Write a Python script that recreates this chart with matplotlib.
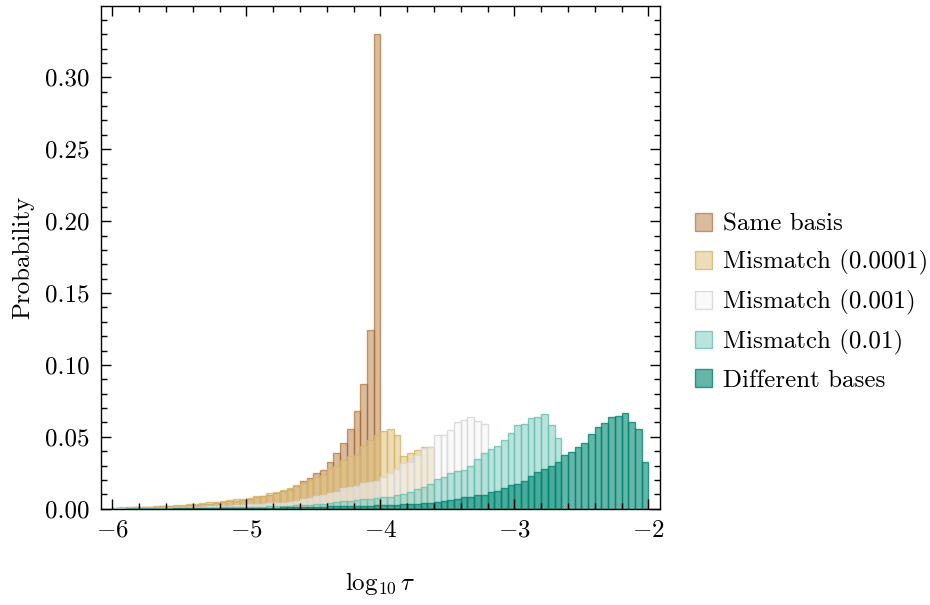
import numpy as np
import matplotlib
matplotlib.use("Agg")
import matplotlib.pyplot as plt
from matplotlib.ticker import MultipleLocator

plt.rcParams["font.family"] = ["cmr10"]
plt.rcParams["mathtext.fontset"] = "cm"
plt.rcParams["axes.formatter.use_mathtext"] = True
plt.rcParams["font.size"] = 18

# histogram of log10(tau), 80 bins of width 0.05 between -6 and -2
bin_lo, bin_hi, n_bins = -6.0, -2.0, 80

same_basis = [
    0.0005, 0.0008, 0.0008, 0.0010, 0.0011, 0.0012, 0.0014, 0.0016, 0.0018, 0.0020,
    0.0022, 0.0025, 0.0027, 0.0031, 0.0036, 0.0038, 0.0045, 0.0050, 0.0055, 0.0062,
    0.0070, 0.0080, 0.0085, 0.0098, 0.0108, 0.0124, 0.0140, 0.0160, 0.0190, 0.0215,
    0.0245, 0.0270, 0.0325, 0.0385, 0.0455, 0.0555, 0.0680, 0.0870, 0.1240, 0.3300,
] + [0.0] * 40

mismatch_1e4 = [
    0.0008, 0.0010, 0.0010, 0.0012, 0.0013, 0.0015, 0.0018, 0.0020, 0.0022, 0.0024,
    0.0026, 0.0030, 0.0031, 0.0037, 0.0044, 0.0045, 0.0056, 0.0060, 0.0065, 0.0070,
    0.0077, 0.0088, 0.0090, 0.0107, 0.0114, 0.0130, 0.0142, 0.0163, 0.0180, 0.0200,
    0.0222, 0.0235, 0.0280, 0.0297, 0.0337, 0.0363, 0.0376, 0.0436, 0.0480, 0.0510,
    0.0538, 0.0555, 0.0510, 0.0366, 0.0390, 0.0406, 0.0427, 0.0430,
] + [0.0] * 32

mismatch_1e3 = [
    0.0003, 0.0003, 0.0004, 0.0004, 0.0005, 0.0005, 0.0006, 0.0007, 0.0008, 0.0009,
    0.0010, 0.0011, 0.0012, 0.0014, 0.0016, 0.0018, 0.0020, 0.0022, 0.0025, 0.0027,
    0.0030, 0.0032, 0.0035, 0.0038, 0.0040, 0.0042, 0.0049, 0.0056, 0.0065, 0.0072,
    0.0088, 0.0095, 0.0111, 0.0116, 0.0142, 0.0148, 0.0158, 0.0176, 0.0188, 0.0192,
    0.0222, 0.0246, 0.0278, 0.0315, 0.0327, 0.0373, 0.0420, 0.0430, 0.0510, 0.0510,
    0.0550, 0.0600, 0.0620, 0.0640, 0.0610, 0.0590,
] + [0.0] * 24

mismatch_1e2 = [
    0.0001, 0.0001, 0.0002, 0.0002, 0.0002, 0.0003, 0.0003, 0.0003, 0.0004, 0.0004,
    0.0005, 0.0005, 0.0006, 0.0006, 0.0007, 0.0008, 0.0009, 0.0010, 0.0011, 0.0012,
    0.0013, 0.0014, 0.0015, 0.0016, 0.0018, 0.0019, 0.0021, 0.0023, 0.0026, 0.0029,
    0.0033, 0.0036, 0.0040, 0.0045, 0.0050, 0.0056, 0.0060, 0.0065, 0.0070, 0.0075,
    0.0084, 0.0084, 0.0095, 0.0102, 0.0118, 0.0135, 0.0153, 0.0172, 0.0204, 0.0223,
    0.0245, 0.0260, 0.0270, 0.0297, 0.0346, 0.0390, 0.0413, 0.0436, 0.0478, 0.0529,
    0.0584, 0.0589, 0.0628, 0.0635, 0.0658, 0.0584, 0.0489,
] + [0.0] * 13

different = [
    0.0000, 0.0000, 0.0001, 0.0001, 0.0001, 0.0001, 0.0001, 0.0001, 0.0001, 0.0002,
    0.0002, 0.0002, 0.0002, 0.0003, 0.0003, 0.0003, 0.0004, 0.0004, 0.0005, 0.0005,
    0.0006, 0.0006, 0.0007, 0.0008, 0.0008, 0.0009, 0.0010, 0.0011, 0.0012, 0.0013,
    0.0014, 0.0015, 0.0016, 0.0017, 0.0018, 0.0019, 0.0020, 0.0021, 0.0022, 0.0023,
    0.0025, 0.0027, 0.0029, 0.0031, 0.0034, 0.0036, 0.0040, 0.0043, 0.0047, 0.0052,
    0.0060, 0.0068, 0.0079, 0.0079, 0.0095, 0.0095, 0.0118, 0.0123, 0.0142, 0.0165,
    0.0174, 0.0195, 0.0227, 0.0253, 0.0274, 0.0297, 0.0327, 0.0373, 0.0396, 0.0431,
    0.0459, 0.0517, 0.0570, 0.0593, 0.0640, 0.0644, 0.0663, 0.0603, 0.0552, 0.0327,
]

labels = ["Same basis", "Mismatch (0.0001)", "Mismatch (0.001)",
          "Mismatch (0.01)", "Different bases"]
series = [same_basis, mismatch_1e4, mismatch_1e3, mismatch_1e2, different]
face_colors = ["#a6611a", "#dfc27d", "#f5f5f5", "#80cdc1", "#018571"]
edge_colors = ["#a6611a", "#d6b56a", "#d8d8d8", "#6cbfb2", "#018571"]
face_alpha = [0.42, 0.55, 0.55, 0.55, 0.6]
edge_alpha = [0.6, 0.8, 0.9, 0.8, 0.8]

edges = np.linspace(bin_lo, bin_hi, n_bins + 1)
width = edges[1] - edges[0]

fig = plt.figure(figsize=(9.3, 6.05), dpi=100)
ax = fig.add_axes([0.1086, 0.1592, 0.6011, 0.8308])

for vals, lab, fc, ec, fa, ea in zip(series, labels, face_colors, edge_colors,
                                     face_alpha, edge_alpha):
    vals = np.asarray(vals)
    keep = vals > 0
    ax.bar(edges[:-1][keep], vals[keep], width=width, align="edge",
           facecolor=matplotlib.colors.to_rgba(fc, fa),
           edgecolor=matplotlib.colors.to_rgba(ec, ea),
           linewidth=1.0, label=lab)

ax.set_xlim(-6.085, -1.913)
ax.set_ylim(0, 0.3496)
ax.xaxis.set_major_locator(MultipleLocator(1))
ax.xaxis.set_minor_locator(MultipleLocator(0.2))
ax.yaxis.set_major_locator(MultipleLocator(0.05))
ax.yaxis.set_minor_locator(MultipleLocator(0.01))
ax.yaxis.set_major_formatter(matplotlib.ticker.FormatStrFormatter("%.2f"))
ax.tick_params(which="both", direction="in", top=True, right=True, width=1)
ax.tick_params(which="major", length=7, pad=8)
ax.tick_params(which="minor", length=4)
for sp in ax.spines.values():
    sp.set_linewidth(1)

ax.set_xlabel(r"$\log_{10}\tau$", labelpad=20)
ax.set_ylabel("Probability", labelpad=8)

fig.legend(loc="center left", bbox_to_anchor=(0.747, 0.5), frameon=False,
           borderaxespad=0, borderpad=0, handlelength=0.7, handleheight=0.7,
           handletextpad=0.45, labelspacing=0.58)

fig.savefig("out.png", dpi=100)
